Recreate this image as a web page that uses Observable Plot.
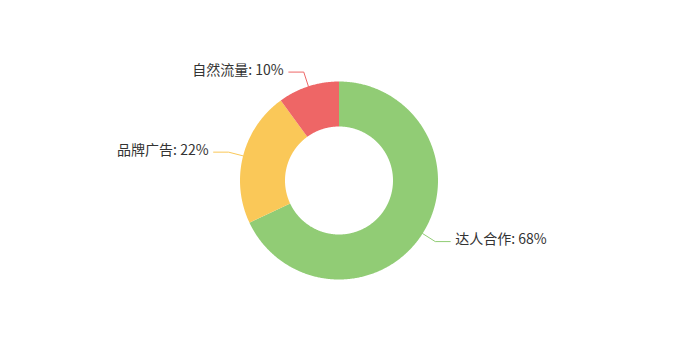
<!DOCTYPE html>
<html><head><meta charset="utf-8">
<script src="https://cdn.jsdelivr.net/npm/d3@7"></script>
<script src="https://cdn.jsdelivr.net/npm/@observablehq/plot@0.6"></script>
<style>body{margin:0;background:#fff}</style>
</head><body><div id="chart"></div>
<script>
const categories = ["达人合作", "品牌广告", "自然流量"];
const values = [68, 22, 10];
const colors = ["#91cc75", "#fac858", "#ee6666"];

const W = 677, H = 360, outerPx = 99, innerPx = 54;
const inner = innerPx / outerPx;
const len1 = 1 + 15 / outerPx, len2 = 15 / outerPx;
const total = d3.sum(values);

// slice polygons built from the data
const slices = [];
const leaders = [];
const labels = [];
let acc = 0;
categories.forEach((name, i) => {
  const a0 = acc / total * 2 * Math.PI;
  acc += values[i];
  const a1 = acc / total * 2 * Math.PI;
  const n = Math.max(2, Math.ceil((a1 - a0) / (Math.PI / 360)));
  for (let k = 0; k <= n; k++) {
    const a = a0 + (a1 - a0) * k / n;
    slices.push({name, x: Math.sin(a), y: Math.cos(a)});
  }
  for (let k = n; k >= 0; k--) {
    const a = a0 + (a1 - a0) * k / n;
    slices.push({name, x: inner * Math.sin(a), y: inner * Math.cos(a)});
  }
  const m = (a0 + a1) / 2;
  const ex = len1 * Math.sin(m), ey = len1 * Math.cos(m);
  const side = Math.sin(m) >= 0 ? 1 : -1;
  leaders.push({name, x: Math.sin(m), y: Math.cos(m)});
  leaders.push({name, x: ex, y: ey});
  leaders.push({name, x: ex + side * len2, y: ey});
  labels.push({name, side, x: ex + side * len2, y: ey, text: `${name}: ${values[i]}%`});
});

const hx = W / 2 / outerPx, hy = H / 2 / outerPx;
const font = "'Noto Sans CJK SC', sans-serif";
const chart = Plot.plot({
  width: W, height: H,
  margin: 0,
  x: {domain: [-hx, hx], axis: null},
  y: {domain: [-hy, hy], axis: null},
  color: {domain: categories, range: colors},
  style: {fontFamily: font, fontSize: "14px", background: "#fff"},
  marks: [
    Plot.line(slices, {x: "x", y: "y", z: "name", fill: "name", stroke: null, curve: "linear-closed"}),
    Plot.line(leaders, {x: "x", y: "y", z: "name", stroke: "name", strokeWidth: 1}),
    Plot.text(labels.filter(d => d.side > 0), {x: "x", y: "y", text: "text", textAnchor: "start", dx: 5, dy: -2, fill: "#333", fontSize: 14, fontFamily: font}),
    Plot.text(labels.filter(d => d.side < 0), {x: "x", y: "y", text: "text", textAnchor: "end", dx: -5, dy: -2, fill: "#333", fontSize: 14, fontFamily: font})
  ]
});
document.getElementById("chart").appendChild(chart);
</script>
</body></html>
